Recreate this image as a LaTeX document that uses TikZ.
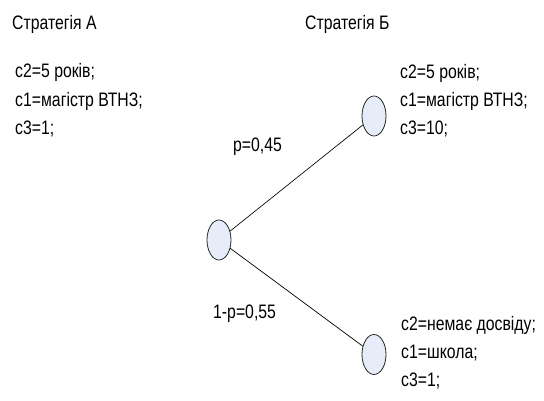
\documentclass[tikz,border=0pt]{standalone}
\usepackage{fontspec}
\setmainfont{Liberation Sans}[FakeStretch=0.81]
\usetikzlibrary{shapes.geometric}
\definecolor{nodefill}{HTML}{E6ECF8}
\begin{document}
\begin{tikzpicture}[x=1pt,y=-1pt,
  chance/.style={ellipse,draw=black!85,fill=nodefill,line width=0.8pt,minimum width=24pt,minimum height=40pt,inner sep=0pt},
  lbl/.style={font=\fontsize{19.5}{24}\selectfont,inner sep=0pt,anchor=base west},
  edge/.style={draw=black,line width=0.7pt}]
\useasboundingbox (0,0) rectangle (544,401);
\node[lbl] (sa) at (12,30) {Стратегія А};
\node[lbl] (sb) at (305,30) {Стратегія Б};
\node[lbl] (a1) at (15,78) {c2=5 років;};
\node[lbl] (a2) at (15,106.5) {c1=магістр ВТНЗ;};
\node[lbl] (a3) at (15,135) {c3=1;};
\node[lbl] (b1) at (400,79) {c2=5 років;};
\node[lbl] (b2) at (400,107) {c1=магістр ВТНЗ;};
\node[lbl] (b3) at (400,135) {c3=10;};
\node[lbl] (c1) at (401,330) {c2=немає досвіду;};
\node[lbl] (c2) at (401,358) {c1=школа;};
\node[lbl] (c3) at (401,386) {c3=1;};
\node[chance] (L) at (219,240) {};
\node[chance] (T) at (374,116) {};
\node[chance] (B) at (374,354.5) {};
\draw[edge] (L) -- (T);
\draw[edge] (L) -- (B);
\node[lbl] (p1) at (233,152) {p=0,45};
\node[lbl] (p2) at (213,318) {1-p=0,55};
\end{tikzpicture}
\end{document}
